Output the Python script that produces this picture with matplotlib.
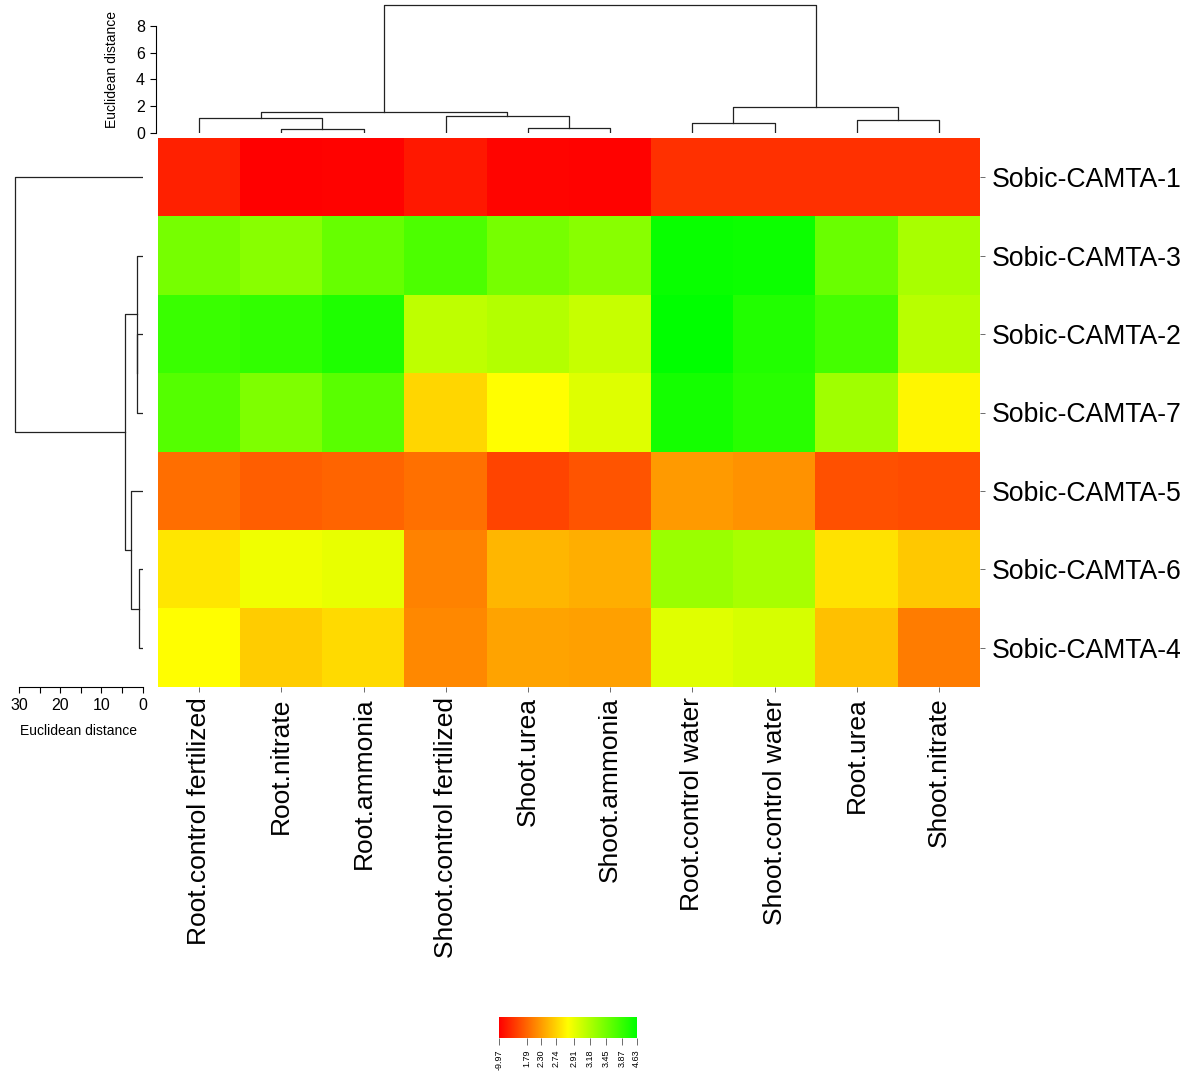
import numpy as np
import matplotlib.pyplot as plt
from matplotlib.colors import LinearSegmentedColormap

plt.rcParams['font.family'] = ['Liberation Sans', 'DejaVu Sans']

# rows and columns in the order shown in the heatmap
genes = ['Sobic-CAMTA-1', 'Sobic-CAMTA-3', 'Sobic-CAMTA-2', 'Sobic-CAMTA-7',
         'Sobic-CAMTA-5', 'Sobic-CAMTA-6', 'Sobic-CAMTA-4']
conditions = ['Root.control fertilized', 'Root.nitrate', 'Root.ammonia',
              'Shoot.control fertilized', 'Shoot.urea', 'Shoot.ammonia',
              'Root.control water', 'Shoot.control water', 'Root.urea', 'Shoot.nitrate']

# expression values
camta1 = [-6.25, -9.97, -9.60, -7.02, -9.40, -9.70, -4.41, -4.41, -4.41, -4.41]
camta3 = [3.43, 3.35, 3.53, 3.72, 3.43, 3.35, 4.52, 4.46, 3.50, 3.20]
camta2 = [3.84, 3.93, 4.21, 3.10, 3.15, 3.07, 4.63, 4.16, 3.78, 3.13]
camta7 = [3.66, 3.39, 3.62, 2.75, 2.85, 2.96, 4.34, 4.06, 3.24, 2.83]
camta5 = [1.87, 0.90, 1.79, 1.89, -2.11, -0.10, 2.29, 2.23, -0.69, -1.16]
camta6 = [2.79, 2.89, 2.91, 2.06, 2.51, 2.46, 3.27, 3.20, 2.78, 2.66]
camta4 = [2.85, 2.69, 2.76, 2.12, 2.38, 2.34, 2.95, 2.99, 2.59, 2.01]

# colour key breaks and where they sit on the key (0..1)
key_values = [-9.97, 1.79, 2.30, 2.74, 2.91, 3.18, 3.45, 3.87, 4.63]
key_pos = [0, 0.199, 0.303, 0.413, 0.544, 0.66, 0.777, 0.891, 1.0]

# dendrograms: (left, right, height), leaves 0..n-1 in display order
col_merges = [(1, 2, 0.255), (0, 10, 1.08), (4, 5, 0.33), (3, 12, 1.25),
              (11, 13, 1.575), (6, 7, 0.705), (8, 9, 0.95), (15, 16, 1.95),
              (14, 17, 9.58)]
row_merges = [(2, 3, 1.30), (1, 7, 1.46), (5, 6, 0.82), (4, 9, 2.84),
              (8, 10, 4.29), (0, 11, 31.0)]

data = np.array([camta1, camta3, camta2, camta7, camta5, camta6, camta4])
cmap = LinearSegmentedColormap.from_list('ryg', ['#FF0000', '#FFFF00', '#00FF00'])

W, H = 1192, 1079
fig = plt.figure(figsize=(W / 100, H / 100), dpi=100)


def px(x0, y0, x1, y1):
    # pixel box -> figure fraction rect
    return [x0 / W, 1 - y1 / H, (x1 - x0) / W, (y1 - y0) / H]


def draw_dendro(ax, merges, n, vertical):
    pos = {i: float(i) for i in range(n)}
    hgt = {i: 0.0 for i in range(n)}
    for k, (a, b, h) in enumerate(merges):
        xs = [pos[a], pos[a], pos[b], pos[b]]
        ys = [hgt[a], h, h, hgt[b]]
        if vertical:
            ax.plot(xs, ys, color='#222222', lw=0.9)
        else:
            ax.plot(ys, xs, color='#222222', lw=0.9)
        pos[n + k] = (pos[a] + pos[b]) / 2
        hgt[n + k] = h


# heatmap
ax = fig.add_axes(px(158, 138, 980, 687))
t = np.interp(data, key_values, key_pos)
ax.imshow(t, cmap=cmap, vmin=0, vmax=1, aspect='auto', interpolation='nearest')
for s in ax.spines.values():
    s.set_visible(False)
ax.set_xticks(range(len(conditions)))
ax.set_xticklabels(conditions, rotation=90, fontsize=19, va='top')
ax.set_yticks(range(len(genes)))
ax.set_yticklabels(genes, fontsize=19.2)
ax.yaxis.tick_right()
ax.tick_params(axis='x', length=3.5, width=0.6, pad=4, color='#555555')
ax.tick_params(axis='y', length=3.5, width=0.6, pad=5, color='#555555')

# column dendrogram
axt = fig.add_axes(px(158, 132.7 - 9.8 * 13.33, 980, 132.7))
draw_dendro(axt, col_merges, len(conditions), True)
axt.set_xlim(-0.5, len(conditions) - 0.5)
axt.set_ylim(0, 9.8)
for k in ['top', 'right', 'bottom']:
    axt.spines[k].set_visible(False)
axt.spines['left'].set_bounds(0, 8)
axt.spines['left'].set_position(('outward', 1.5))
axt.spines['left'].set_linewidth(0.8)
axt.set_xticks([])
axt.set_yticks([0, 2, 4, 6, 8])
axt.tick_params(axis='y', length=4, width=0.8, pad=4, labelsize=11.5)
axt.patch.set_visible(False)
fig.text(111.5 / W, 1 - 69 / H, 'Euclidean distance', rotation=90,
         ha='center', va='center', fontsize=10)

# row dendrogram
axl = fig.add_axes(px(142.7 - 32.5 * 4.123, 138, 142.7, 687))
draw_dendro(axl, row_merges, len(genes), False)
axl.set_xlim(32.5, 0)
axl.set_ylim(len(genes) - 0.5, -0.5)
for k in ['top', 'right', 'left']:
    axl.spines[k].set_visible(False)
axl.spines['bottom'].set_bounds(0, 30)
axl.spines['bottom'].set_linewidth(0.8)
axl.set_yticks([])
axl.set_xticks([0, 5, 10, 15, 20, 25, 30])
axl.set_xticklabels(['0', '', '10', '', '20', '', '30'])
axl.tick_params(axis='x', length=4, width=0.8, pad=4, labelsize=11.5)
axl.patch.set_visible(False)
fig.text(78.5 / W, 1 - 731 / H, 'Euclidean distance', ha='center',
         va='center', fontsize=10)

# colour key
axk = fig.add_axes(px(499.3, 1016.7, 636.7, 1038.3))
grad = np.linspace(0, 1, 256).reshape(1, -1)
axk.imshow(grad, cmap=cmap, aspect='auto', extent=[0, 1, 0, 1])
for s in axk.spines.values():
    s.set_visible(False)
axk.set_yticks([])
axk.set_xticks(key_pos)
axk.set_xticklabels(['%.2f' % v for v in key_values], rotation=90, fontsize=6.5)
axk.tick_params(axis='x', length=5, width=0.6, pad=3, color='#555555')

fig.savefig('out.png', dpi=100)
